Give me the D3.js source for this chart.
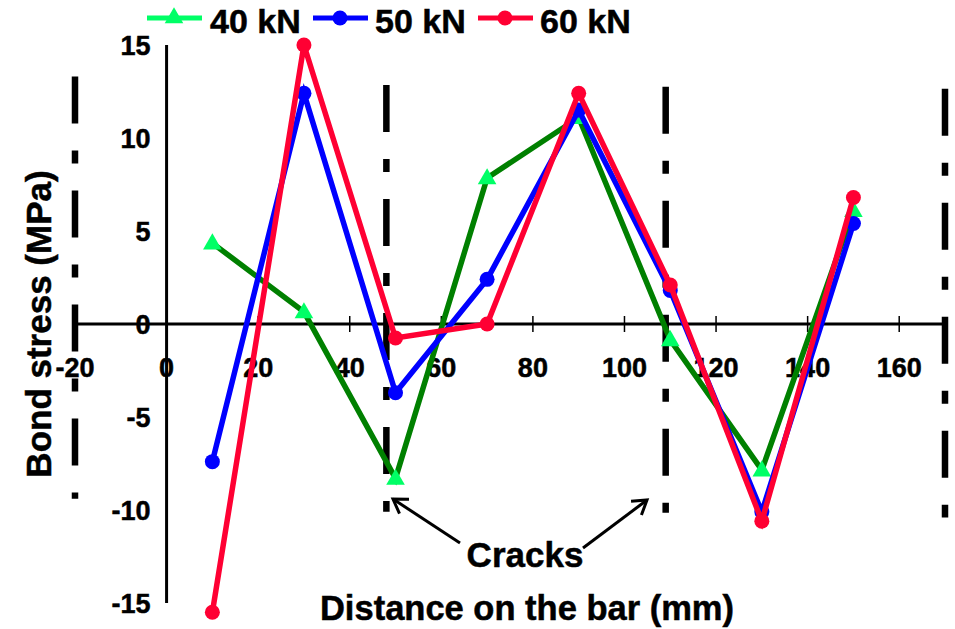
<!DOCTYPE html>
<html>
<head>
<meta charset="utf-8">
<script src="https://cdn.jsdelivr.net/npm/d3@7"></script>
<style>
  html, body { margin: 0; padding: 0; background: #fff; }
  svg { display: block; font-family: "Liberation Sans", Arial, sans-serif; font-weight: bold; }
  svg text { fill: #000; stroke: #000; stroke-width: 0.5px; }
</style>
</head>
<body>
<svg id="chart" width="955" height="629"></svg>
<script>
// ---- data ----
const distances = [10, 30, 50, 70, 90, 110, 130, 150];
const stress40 = [4.35, 0.65, -8.3, 7.85, 11.1, -0.85, -7.85, 6.1];
const stress50 = [-7.4, 12.4, -3.7, 2.4, 11.5, 1.8, -10.1, 5.4];
const stress60 = [-15.5, 15.0, -0.75, 0.0, 12.4, 2.1, -10.6, 6.8];
const seriesNames = ["40 kN", "50 kN", "60 kN"];
const xTicks = [-20, 0, 20, 40, 60, 80, 100, 120, 140, 160];
const yTicks = [-15, -10, -5, 0, 5, 10, 15];
const crackPositions = [-20, 48, 109, 170];
const crackTops = [13.3, 12.85, 12.75, 12.65];
const crackBottoms = [-9.4, -10.1, -10.15, -10.4];

const svg = d3.select("#chart");
const x = d3.scaleLinear().domain([-20, 170]).range([75, 945]);
const y = d3.scaleLinear().domain([-15, 15]).range([603, 45]);

const styles = [
  { line: "#008000", marker: "#00FF66", legendLine: "#00FF66", shape: "triangle" },
  { line: "#0000FF", marker: "#0000FF", legendLine: "#0000FF", shape: "circle" },
  { line: "#FF0033", marker: "#FF0033", legendLine: "#FF0033", shape: "circle" }
];
const allSeries = [stress40, stress50, stress60];

// crack dashed lines
svg.append("g").selectAll("line").data(crackPositions).join("line")
  .attr("x1", d => x(d)).attr("x2", d => x(d))
  .attr("y1", (d, i) => y(crackTops[i])).attr("y2", (d, i) => y(crackBottoms[i]))
  .attr("stroke", "#000").attr("stroke-width", 6.5)
  .attr("stroke-dasharray", "47,27,13,27");

// x axis (at y=0)
const xAxisG = svg.append("g").attr("transform", `translate(0,${y(0)})`);
xAxisG.append("line").attr("x1", x(-20)).attr("x2", x(170)).attr("stroke", "#000").attr("stroke-width", 3);
xAxisG.selectAll("line.tick").data(xTicks.filter(d => d !== 0)).join("line").attr("class", "tick")
  .attr("x1", d => x(d)).attr("x2", d => x(d)).attr("y1", -8).attr("y2", 8)
  .attr("stroke", "#000").attr("stroke-width", 1.5);
xAxisG.selectAll("text").data(xTicks).join("text")
  .attr("x", d => x(d)).attr("y", 53)
  .attr("text-anchor", "middle").attr("font-size", 27).text(d => d);

// y axis (at x=0)
const yAxisG = svg.append("g").attr("transform", `translate(${x(0)},0)`);
yAxisG.append("line").attr("y1", y(15)).attr("y2", y(-15)).attr("stroke", "#000").attr("stroke-width", 3);
yAxisG.selectAll("text").data(yTicks).join("text")
  .attr("x", -16).attr("y", d => y(d) + 10)
  .attr("text-anchor", "end").attr("font-size", 27).text(d => d);

// series
const lineGen = d3.line().x((d, i) => x(distances[i])).y(d => y(d));
const tri = d3.symbol().type(d3.symbolTriangle).size(150);
allSeries.forEach((vals, si) => {
  const st = styles[si];
  const g = svg.append("g");
  g.append("path").datum(vals).attr("d", lineGen)
    .attr("fill", "none").attr("stroke", st.line).attr("stroke-width", 5.5).attr("stroke-linejoin", "miter");
  if (st.shape === "triangle") {
    g.selectAll("path.m").data(vals).join("path").attr("class", "m")
      .attr("d", tri)
      .attr("transform", (d, i) => `translate(${x(distances[i])},${y(d) + 1})`)
      .attr("fill", st.marker);
  } else {
    g.selectAll("circle").data(vals).join("circle")
      .attr("cx", (d, i) => x(distances[i])).attr("cy", d => y(d)).attr("r", 7.5)
      .attr("fill", st.marker);
  }
});

// axis titles
svg.append("text").attr("transform", `translate(51,${y(0)}) rotate(-90)`)
  .attr("text-anchor", "middle").attr("font-size", 35).text("Bond stress (MPa)");
svg.append("text").attr("x", 527).attr("y", 620)
  .attr("text-anchor", "middle").attr("font-size", 34.5).text("Distance on the bar (mm)");

// Cracks annotation
svg.append("text").attr("x", 525).attr("y", 567)
  .attr("text-anchor", "middle").attr("font-size", 35).text("Cracks");
function arrow(x1, y1, x2, y2) {
  const g = svg.append("g").attr("stroke", "#000").attr("stroke-width", 3).attr("fill", "none");
  g.append("line").attr("x1", x1).attr("y1", y1).attr("x2", x2).attr("y2", y2);
  const ang = Math.atan2(y2 - y1, x2 - x1);
  const L = 16, a = Math.PI / 5.5;
  const p = [[x2 - L * Math.cos(ang - a), y2 - L * Math.sin(ang - a)], [x2, y2], [x2 - L * Math.cos(ang + a), y2 - L * Math.sin(ang + a)]];
  g.append("path").attr("d", d3.line()(p)).attr("stroke-linejoin", "miter");
}
arrow(460, 543, 393, 499);
arrow(583, 548, 647, 500);

// legend
const legendItems = [
  { lx: 147, tx: 210 },
  { lx: 313, tx: 375 },
  { lx: 478, tx: 540 }
];
seriesNames.forEach((name, i) => {
  const st = styles[i], li = legendItems[i];
  const g = svg.append("g");
  g.append("line").attr("x1", li.lx).attr("x2", li.lx + 55).attr("y1", 18).attr("y2", 18)
    .attr("stroke", st.legendLine).attr("stroke-width", 5);
  if (st.shape === "triangle") {
    g.append("path").attr("d", tri).attr("transform", `translate(${li.lx + 27},${18})`).attr("fill", st.marker);
  } else {
    g.append("circle").attr("cx", li.lx + 27).attr("cy", 18).attr("r", 7.5).attr("fill", st.marker);
  }
  g.append("text").attr("x", li.tx).attr("y", 33).attr("font-size", 34).text(name);
});
</script>
</body>
</html>
